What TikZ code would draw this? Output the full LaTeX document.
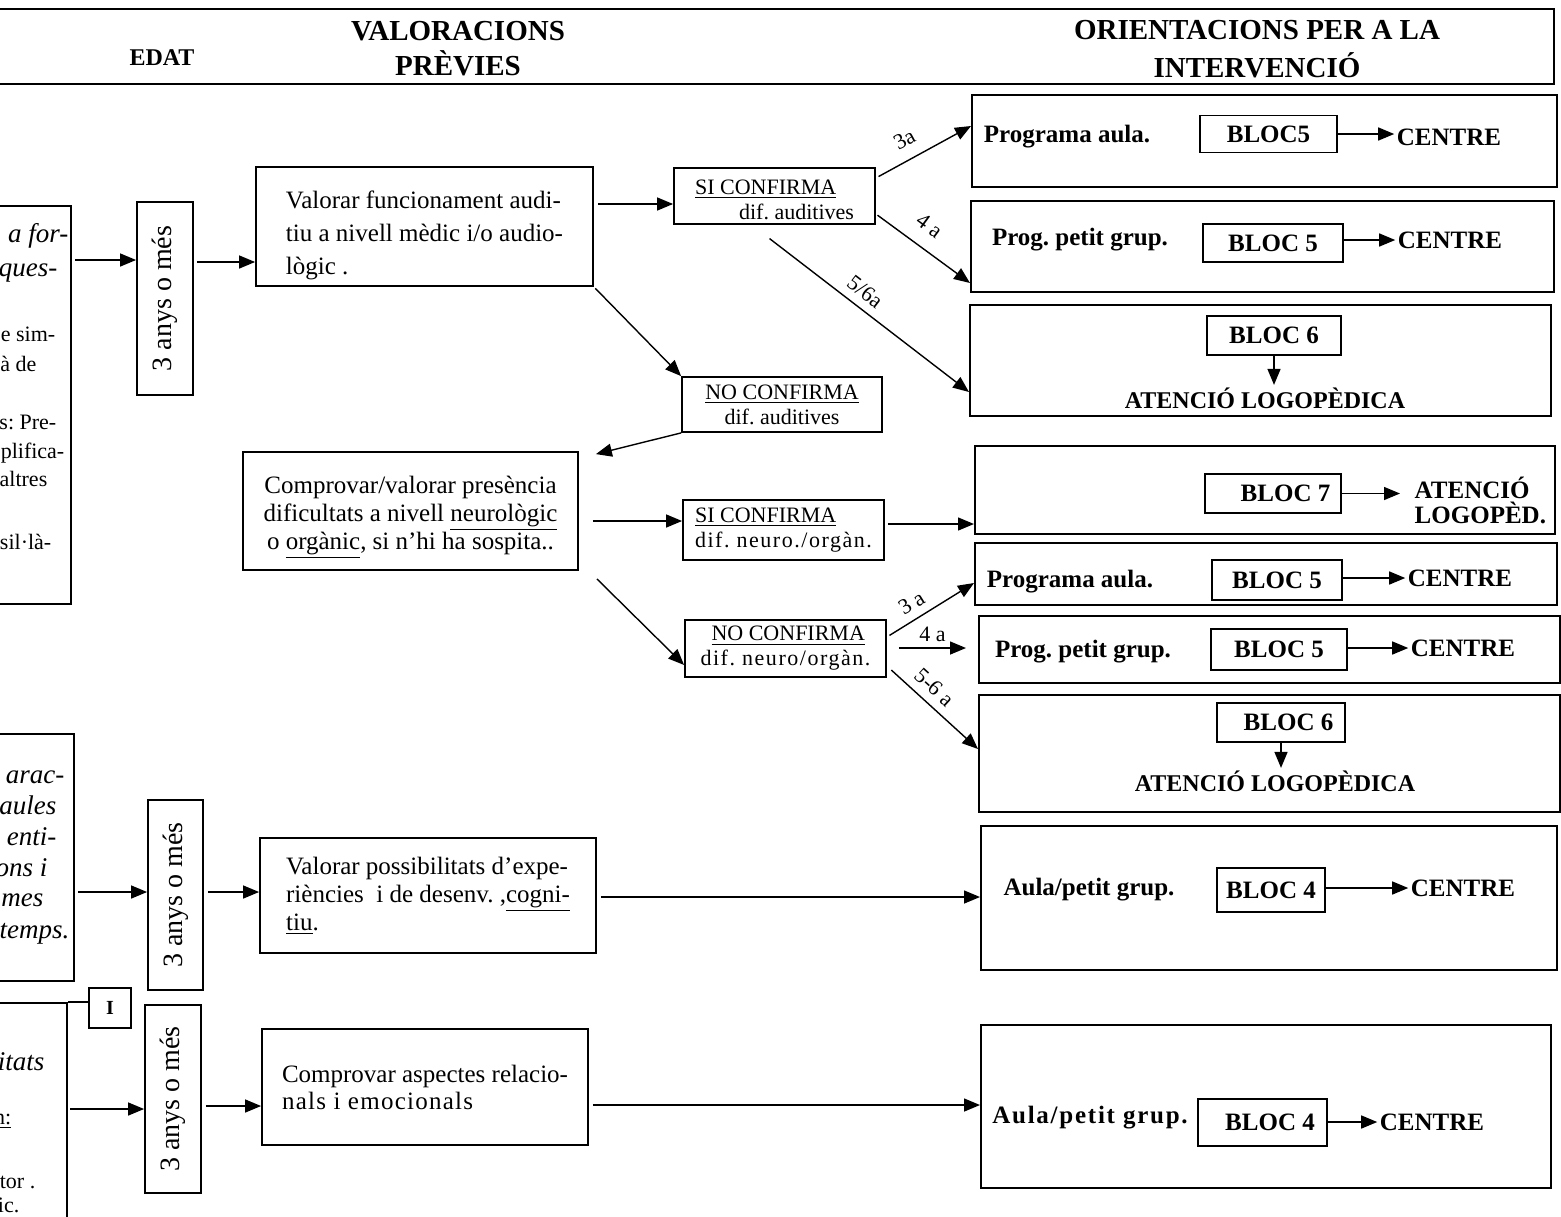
\documentclass[tikz,border=0pt]{standalone}
\usepackage{fontspec}
\setmainfont{Liberation Serif}
\usepackage{graphicx}
\usetikzlibrary{arrows.meta,calc}
\frenchspacing

\tikzset{
  plainbox/.style={draw, line width=0.9pt, inner sep=2pt, align=left},
  agebox/.style={plainbox, font=\fontsize{14}{16}\selectfont},
  confbox/.style={plainbox, font=\fontsize{11}{12.5}\selectfont},
  rbox/.style={draw, line width=1pt},
  bloc/.style={draw, line width=0.8pt, font=\bfseries\fontsize{12.5}{14}\selectfont},
  rtext/.style={inner sep=1pt, font=\bfseries\fontsize{12.5}{14}\selectfont},
  headtext/.style={align=center, font=\bfseries\fontsize{14.5}{17.5}\selectfont},
  lab/.style={inner sep=1pt, font=\fontsize{11}{12}\selectfont},
  frag/.style={anchor=base east, inner sep=0pt},
}

\begin{document}
\begin{tikzpicture}[x=0.5pt,y=-0.5pt,line width=0.7pt,
    >={Triangle[length=8pt,width=6.5pt]},
    font=\fontsize{12.5}{15}\selectfont]
  \useasboundingbox (0,0) rectangle (1561,1216);
  \clip (0,0) rectangle (1561,1216);

  % header
  \node[plainbox, anchor=north east, minimum width=800pt, minimum height=37.5pt] (head) at (1555,8) {};
  \node[headtext, font=\bfseries\fontsize{12}{14}\selectfont] (edat) at (162,58) {EDAT};
  \node[headtext] (valhead) at (458,49) {VALORACIONS\\PRÈVIES};
  \node[headtext, font=\bfseries\fontsize{14.5}{19}\selectfont] (orhead) at (1257,49) {ORIENTACIONS PER A LA\\INTERVENCIÓ};

  % left boxes, cut off by the page edge
  \node[plainbox, anchor=north east, minimum width=200pt, minimum height=199pt] (left1) at (72,205) {};
  \node[plainbox, anchor=north east, minimum width=200pt, minimum height=123.5pt] (left2) at (75,733) {};
  \node[plainbox, anchor=north east, minimum width=200pt, minimum height=150pt] (left3) at (68,1002) {};
  \foreach \x/\y/\t [count=\i] in {69/242/a for-, 58/276/ques-, 65/783/arac-, 57/814/aules,
      57/845/enti-, 48/876/ons i, 44/906/mes, 70/938/temps., 45/1070/itats}
    \node[frag, font=\itshape\fontsize{13.5}{16}\selectfont] (lit\i) at (\x,\y) {\t};
  \foreach \x/\y/\t [count=\i] in {56/341/e sim-, 37/371/à de, 57/429/s: Pre-, 65/458/plifica-,
      48/486/altres, 52/549/sil·là-, 12/1124/\underline{n:}, 36/1188/tor ., 20/1212/ic.}
    \node[frag, font=\fontsize{11}{13}\selectfont] (lrm\i) at (\x,\y) {\t};
  \node[plainbox, font=\bfseries, minimum width=21pt, minimum height=20pt] (ibox) at (110,1008) {I};
  \draw (left3.north east) -- (ibox.west |- left3.north east);

  % ages
  \node[agebox, minimum width=28pt, minimum height=96.5pt] (age1) at (165,298.5) {\rotatebox{90}{3 anys o més}};
  \node[agebox, minimum width=27.5pt, minimum height=95pt] (age2) at (175.5,895) {\rotatebox{90}{3 anys o més}};
  \node[agebox, minimum width=28pt, minimum height=94pt] (age3) at (173,1099) {\rotatebox{90}{3 anys o més}};

  % previous assessments
  \node[plainbox, font=\fontsize{12.5}{16.5}\selectfont, minimum width=168.5pt, minimum height=59.5pt] (val1) at (424.5,226.5)
    {\rule{0pt}{18pt}Valorar funcionament audi-\\tiu a nivell mèdic i/o audio-\\lògic .};
  \node[confbox, minimum width=100.5pt, minimum height=26pt] (si1) at (774.5,196)
    {\rule{0pt}{11pt}\underline{SI CONFIRMA}\\\hspace*{2em}dif. auditives};
  \node[confbox, align=center, minimum width=100pt, minimum height=27.5pt] (no1) at (782,404.5)
    {\underline{NO CONFIRMA}\\dif. auditives};
  \node[plainbox, align=center, font=\fontsize{12.5}{14}\selectfont, minimum width=167.5pt, minimum height=59pt] (comp1) at (410.5,511)
    {\rule{0pt}{15pt}Comprovar/valorar presència\\dificultats a nivell \underline{neurològic}\\o \underline{orgànic}, si n'hi ha sospita..};
  \node[confbox, minimum width=100.5pt, minimum height=30pt] (si2) at (783.5,530)
    {\underline{SI CONFIRMA}\\{\addfontfeature{LetterSpace=7}dif. neuro./orgàn.}};
  \node[confbox, minimum width=100.5pt, minimum height=28.5pt] (no2) at (785.5,648.5)
    {\hspace*{0.5em}\underline{NO CONFIRMA}\\{\addfontfeature{LetterSpace=7}dif. neuro/orgàn.}};
  \node[plainbox, font=\fontsize{12.5}{14}\selectfont, minimum width=168pt, minimum height=57.5pt] (val2) at (428,895.5)
    {Valorar possibilitats d'expe-\\riències~ i de desenv. ,\underline{cogni-}\\\underline{tiu}.};
  \node[plainbox, font=\fontsize{12.5}{13.5}\selectfont, minimum width=163pt, minimum height=58pt] (comp2) at (425,1087)
    {Comprovar aspectes relacio-\\{\addfontfeature{LetterSpace=5}nals i emocionals}};

  % orientations
  \node[rbox, minimum width=292.5pt, minimum height=46pt] (r1) at (1264.5,141) {};
  \node[rtext] (r1t) at (1067,137) {Programa aula.};
  \node[bloc, minimum width=68.5pt, minimum height=18.5pt] (r1b) at (1268.5,134) {BLOC5};
  \node[rtext] (r1c) at (1449,137) {CENTRE};
  \draw [->] (r1b.east) -- (r1b.east -| r1c.west);

  \node[rbox, minimum width=291.5pt, minimum height=45.5pt] (r2) at (1262.5,246.5) {};
  \node[rtext] (r2t) at (1080,240) {Prog. petit grup.};
  \node[bloc, minimum width=70pt, minimum height=19pt] (r2b) at (1273,243) {BLOC 5};
  \node[rtext] (r2c) at (1450,240) {CENTRE};
  \draw [->] (r2b.east |- r2c) -- (r2c.west);

  \node[rbox, minimum width=290.5pt, minimum height=55.5pt] (r3) at (1260.5,360.5) {};
  \node[bloc, minimum width=67pt, minimum height=19.5pt] (r3b) at (1274,335.5) {BLOC 6};
  \node[rtext, font=\bfseries\fontsize{12}{14}\selectfont] (r3c) at (1265,398) {ATENCIÓ LOGOPÈDICA};
  \draw [->] (r3b.south) -- (r3b.south |- r3c.north);

  \node[rbox, minimum width=290pt, minimum height=44pt] (r4) at (1265,490) {};
  \node[bloc, minimum width=68pt, minimum height=19.5pt] (r4b) at (1273,493.5) {\hspace*{1em}BLOC 7};
  \node[rtext, anchor=west, align=left, font=\bfseries\fontsize{12.5}{12.5}\selectfont] (r4c) at (1412,500) {ATENCIÓ\\LOGOPÈD.};
  \draw [->, shorten >=6pt] (r4b.east) -- (r4b.east -| r4c.west);

  \node[rbox, minimum width=291pt, minimum height=31pt] (r5) at (1266,574) {};
  \node[rtext] (r5t) at (1070,582) {Programa aula.};
  \node[bloc, minimum width=65pt, minimum height=20pt] (r5b) at (1277,580) {BLOC 5};
  \node[rtext] (r5c) at (1460,578) {CENTRE};
  \draw [->] (r5b.east |- r5c) -- (r5c.west);

  \node[rbox, minimum width=290.5pt, minimum height=33.5pt] (r6) at (1269.5,649.5) {};
  \node[rtext] (r6t) at (1083,652) {Prog. petit grup.};
  \node[bloc, minimum width=68pt, minimum height=20.5pt] (r6b) at (1279,649.5) {BLOC 5};
  \node[rtext] (r6c) at (1463,648) {CENTRE};
  \draw [->] (r6b.east |- r6c) -- (r6c.west);

  \node[rbox, minimum width=290.5pt, minimum height=58.5pt] (r7) at (1269.5,753.5) {};
  \node[bloc, minimum width=64pt, minimum height=19.5pt] (r7b) at (1281,722.5) {\hspace*{0.6em}BLOC 6};
  \node[rtext, font=\bfseries\fontsize{12}{14}\selectfont] (r7c) at (1275,781) {ATENCIÓ LOGOPÈDICA};
  \draw [->] (r7b.south) -- (r7b.south |- r7c.north);

  \node[rbox, minimum width=288pt, minimum height=72pt] (r8) at (1269,898) {};
  \node[rtext] (r8t) at (1089,890) {Aula/petit grup.};
  \node[bloc, minimum width=54pt, minimum height=22pt] (r8b) at (1271,890) {BLOC 4};
  \node[rtext] (r8c) at (1463,888) {CENTRE};
  \draw [->] (r8b.east |- r8c) -- (r8c.west);

  \node[rbox, minimum width=285pt, minimum height=81.5pt] (r9) at (1266,1106.5) {};
  \node[rtext, font=\bfseries\fontsize{12.5}{14}\selectfont\addfontfeature{LetterSpace=7}] (r9t) at (1090,1118) {Aula/petit grup.};
  \node[bloc, minimum width=64.5pt, minimum height=23.5pt] (r9b) at (1262.5,1122.5) {\hspace*{0.6em}BLOC 4};
  \node[rtext] (r9c) at (1432,1122) {CENTRE};
  \draw [->] (r9b.east |- r9c) -- (r9c.west);

  % connectors
  \draw [->, shorten <=1.5pt] (left1.east |- 0,260) -- (age1.west |- 0,260);
  \draw [->, shorten <=1.5pt] (age1.east |- 0,262) -- (val1.west |- 0,262);
  \draw [->, shorten <=2pt] (val1.east |- 0,204) -- (si1.west |- 0,204);
  \draw [->, shorten <=1.5pt] (si1.east |- 0,178) -- (r1.west |- 0,126)
    node[lab, pos=0.4, above=5pt, sloped] {3a};
  \draw [->, shorten <=1pt] (si1.east |- 0,214) -- (r2.west |- 0,283)
    node[lab, pos=0.43, above=6pt, sloped] {4 a};
  \draw [->] ($(si1.south)+(-5,14)$) -- (r3.west |- 0,392)
    node[lab, pos=0.43, above=3pt, sloped] {5/6a};
  \draw [->, shorten <=1pt] (val1.south east) -- (no1.north west);
  \draw [->] (no1.south west) -- ($(comp1.north east)+(17,3)$);
  \draw [->, shorten <=7pt] (comp1.east |- 0,521) -- (si2.west |- 0,521);
  \draw [->, shorten <=1.5pt] (si2.east |- 0,524) -- (r4.west |- 0,524);
  \draw [->] ($(comp1.south east)+(18,8)$) -- (no2.west |- 0,665);
  \draw [->, shorten <=1.5pt] (no2.east |- 0,637) -- (r5.west |- 0,583)
    node[lab, pos=0.38, above=3pt, sloped] {3 a};
  \draw [->, shorten <=6pt, shorten >=6pt] (no2.east |- 0,648) -- (r6.west |- 0,648)
    node[lab, pos=0.5, above=2pt] {4 a};
  \draw [->, shorten <=3pt] (no2.east |- 0,666) -- (r7.west |- 0,749)
    node[lab, pos=0.4, above=3pt, sloped] {5-6 a};
  \draw [->, shorten <=1.5pt] (left2.east |- 0,892) -- (age2.west |- 0,892);
  \draw [->, shorten <=2pt] (age2.east |- 0,892) -- (val2.west |- 0,892);
  \draw [->, shorten <=2pt] (val2.east |- 0,897) -- (r8.west |- 0,897);
  \draw [->, shorten <=1pt] (left3.east |- 0,1109) -- (age3.west |- 0,1109);
  \draw [->, shorten <=2pt] (age3.east |- 0,1106) -- (comp2.west |- 0,1106);
  \draw [->, shorten <=2pt] (comp2.east |- 0,1105) -- (r9.west |- 0,1105);
\end{tikzpicture}
\end{document}
